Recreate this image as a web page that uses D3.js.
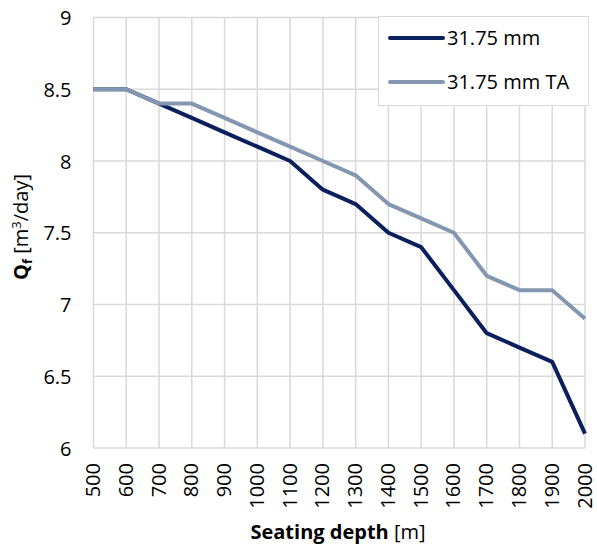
<!DOCTYPE html>
<html><head><meta charset="utf-8">
<script src="https://cdn.jsdelivr.net/npm/d3@7"></script>
<style>body{margin:0;background:#fff}svg{display:block}text{font-family:"Open Sans","Noto Sans",sans-serif;fill:#000}</style>
</head><body><svg id="c" width="597" height="551"></svg>
<script>
const depths = [500,600,700,800,900,1000,1100,1200,1300,1400,1500,1600,1700,1800,1900,2000];
const seriesA = [8.5,8.5,8.4,8.3,8.2,8.1,8.0,7.8,7.7,7.5,7.4,7.1,6.8,6.7,6.6,6.1];
const seriesB = [8.5,8.5,8.4,8.4,8.3,8.2,8.1,8.0,7.9,7.7,7.6,7.5,7.2,7.1,7.1,6.9];
const seriesNames = ["31.75 mm","31.75 mm TA"];
const yTicks = [6,6.5,7,7.5,8,8.5,9];

const svg = d3.select("#c");
const x = d3.scaleLinear().domain([500,2000]).range([93.5,585]);
const y = d3.scaleLinear().domain([6,9]).range([448,17.5]);
const colors = ["#0a1f5c","#8497b0"];
const FS = 20;

// grid
const g = svg.append("g");
g.selectAll(".vg").data(depths).enter().append("line")
 .attr("x1",d=>x(d)).attr("x2",d=>x(d)).attr("y1",y(9)).attr("y2",y(6))
 .attr("stroke","#d9d9d9").attr("stroke-width",1.5);
g.selectAll(".hg").data(yTicks).enter().append("line")
 .attr("x1",x(500)).attr("x2",x(2000)).attr("y1",d=>y(d)).attr("y2",d=>y(d))
 .attr("stroke","#d9d9d9").attr("stroke-width",1.5);

// y axis labels
const yAxis = d3.axisLeft(y).tickValues(yTicks).tickSize(0).tickPadding(0).tickFormat(d=>String(d));
const ya = svg.append("g").attr("transform",`translate(${x(500)-22},0)`).call(yAxis);
ya.select(".domain").remove();
ya.selectAll("text").attr("font-size",FS).attr("font-family","Open Sans").attr("fill","#000").attr("dy","0.35em");

// x axis labels
const xAxis = d3.axisBottom(x).tickValues(depths).tickSize(0).tickPadding(0).tickFormat(d=>String(d));
const xa = svg.append("g").attr("transform",`translate(0,${y(6)+15})`).call(xAxis);
xa.select(".domain").remove();
xa.selectAll("text").attr("font-size",FS).attr("font-family","Open Sans").attr("fill","#000")
 .attr("transform","rotate(-90)").attr("text-anchor","end").attr("x",0).attr("y",0).attr("dy","0.3em");

// lines: dark first, light on top
const line = d3.line().x((d,i)=>x(depths[i])).y(d=>y(d));
[[seriesA,0],[seriesB,1]].forEach(([s,idx])=>{
  svg.append("path").datum(s).attr("d",line).attr("fill","none")
   .attr("stroke",colors[idx]).attr("stroke-width",4).attr("stroke-linejoin","round");
});

// legend
const lg = svg.append("g");
lg.append("rect").attr("x",378.5).attr("y",16.5).attr("width",210).attr("height",89)
 .attr("fill","#fff").attr("stroke","#d9d9d9").attr("stroke-width",1);
seriesNames.forEach((n,i)=>{
  const yy = 38 + i*44;
  lg.append("line").attr("x1",390).attr("x2",443).attr("y1",yy).attr("y2",yy)
   .attr("stroke",colors[i]).attr("stroke-width",4).attr("stroke-linecap","round");
  lg.append("text").attr("x",447).attr("y",yy).attr("dy","0.35em").attr("font-size",FS).text(n);
});

// axis titles
const xt = svg.append("text").attr("x",338).attr("y",539).attr("text-anchor","middle").attr("font-size",FS);
xt.append("tspan").attr("font-weight","bold").text("Seating depth");
xt.append("tspan").text(" [m]");

const yt = svg.append("text").attr("transform","translate(28,227) rotate(-90)").attr("text-anchor","middle").attr("font-size",FS);
yt.append("tspan").attr("font-weight","bold").text("Q");
yt.append("tspan").attr("font-weight","bold").attr("font-size",13).attr("dy",4).text("f");
yt.append("tspan").attr("dy",-4).text(" [m");
yt.append("tspan").attr("font-size",13).attr("dy",-7).text("3");
yt.append("tspan").attr("dy",7).text("/day]");
</script></body></html>
